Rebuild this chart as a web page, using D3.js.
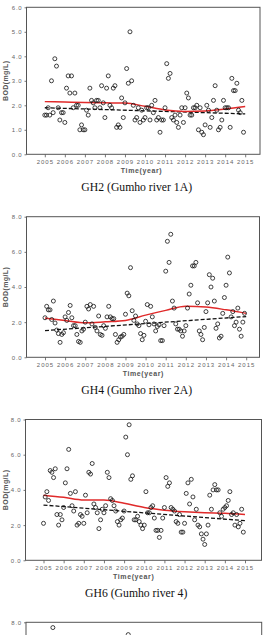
<!DOCTYPE html>
<html><head><meta charset="utf-8">
<script src="https://cdn.jsdelivr.net/npm/d3@7"></script>
<style>
html,body{margin:0;padding:0;background:#fff;overflow:hidden;}
svg{display:block;}
</style></head>
<body>
<script>
// ---- data (monthly BOD, Jan 2005 .. Dec 2014) ----
const xTickYears = [2005,2006,2007,2008,2009,2010,2011,2012,2013,2014,2015];
const startYear = 2005;

const gh2 = [1.6,1.6,1.9,1.6,3.0,1.7,3.9,3.6,1.9,1.4,1.7,1.7,
  1.3,2.7,3.2,2.5,3.2,1.9,2.5,2.0,2.0,1.0,1.2,1.0,
  1.0,1.8,1.6,2.7,2.2,2.1,1.9,2.2,2.2,1.9,2.8,2.1,
  1.5,2.7,3.2,2.0,1.9,2.7,2.8,1.1,1.2,1.1,2.3,1.5,
  2.1,3.5,2.9,5.0,3.0,2.0,1.4,1.5,1.9,1.3,1.8,1.4,
  1.5,1.9,1.9,1.4,2.0,1.7,2.2,1.4,1.5,0.9,1.4,1.4,
  1.9,3.7,3.1,3.3,1.5,1.4,1.6,1.3,1.1,1.6,1.9,1.3,
  1.9,2.5,2.3,1.6,1.6,1.9,1.9,2.0,1.0,1.9,0.9,0.8,
  1.2,2.0,1.8,1.1,1.5,2.2,2.8,1.8,1.0,1.1,1.4,2.2,
  1.9,1.9,1.9,1.1,3.1,2.6,2.6,2.9,1.8,1.7,2.2,0.9];
const gh4 = [2.25,2.9,2.7,2.7,2.15,3.2,1.95,1.55,1.35,0.85,1.3,1.4,
  2.3,2.1,2.55,2.95,2.25,1.8,1.8,1.3,0.9,0.85,1.5,1.6,
  2.0,2.9,2.75,3.0,1.9,2.9,1.7,1.5,2.35,1.3,1.25,1.8,
  1.65,2.3,2.9,2.3,2.2,2.2,1.3,0.85,1.0,1.15,1.2,1.3,
  2.45,3.65,3.5,5.1,2.65,2.1,2.35,1.9,1.8,1.35,1.0,1.25,
  2.05,3.0,1.85,2.9,2.3,1.9,1.5,1.75,1.85,0.95,0.95,1.8,
  4.9,6.6,5.4,7.0,3.2,2.8,1.9,1.6,1.6,1.5,1.2,1.5,
  1.8,2.8,3.6,4.1,5.2,5.2,5.4,3.1,1.5,1.3,1.0,1.7,
  2.6,3.1,4.7,4.0,4.5,3.2,1.65,1.9,1.1,1.2,2.5,3.4,
  4.1,5.7,4.8,2.3,2.6,1.8,2.0,2.8,1.6,1.2,2.0,2.5];
const gh6 = [2.1,3.6,3.9,3.4,5.1,5.0,4.7,5.2,2.6,2.0,2.6,2.3,
  3.0,4.4,5.2,6.3,3.8,3.1,2.8,3.9,2.0,2.1,2.6,2.5,
  2.1,3.7,2.7,5.0,4.9,5.5,3.2,3.0,2.7,1.8,2.3,2.9,
  2.7,3.1,5.0,4.7,3.5,3.4,3.1,2.8,2.2,2.0,2.3,2.4,
  2.8,7.0,6.0,7.7,4.6,4.8,2.3,2.3,2.5,2.2,2.0,1.8,
  2.0,3.9,2.7,2.7,3.0,3.1,2.4,1.7,1.7,1.3,1.7,2.4,
  3.0,4.7,4.2,4.4,3.0,2.9,2.8,2.2,2.1,2.6,1.6,1.6,
  2.1,3.8,4.4,3.2,4.6,3.6,2.3,2.9,2.0,1.9,1.5,1.2,
  0.9,1.5,2.0,3.7,2.9,4.0,4.3,4.0,4.0,2.7,2.5,2.9,
  3.0,3.1,3.4,3.9,2.6,2.7,2.0,2.6,1.9,2.1,2.9,1.6];
// visible top of the 4th panel (only two points fall inside the picture)
const gh8VisibleMonth = [5, 50];
const gh8VisibleValue = [7.7, 7.3];

// LOWESS curves (value at each year mark)
const lowessYears = [2005,2006,2007,2008,2009,2010,2011,2012,2013,2014,2015];
const gh2Lowess = [2.15,2.13,2.11,2.1,2.09,1.96,1.81,1.75,1.77,1.85,1.95];
const gh4Lowess = [2.23,2.1,1.96,2.02,2.1,2.4,2.67,2.9,2.86,2.7,2.5];
const gh6Lowess = [3.7,3.58,3.43,3.42,3.24,3.0,2.85,2.76,2.7,2.67,2.6];
// Sen's slope trend line (start, end values at 2005 and 2015)
const gh2Trend = [1.9,1.65];
const gh4Trend = [1.52,2.32];
const gh6Trend = [3.14,2.25];

const captions = ["GH2 (Gumho river 1A)","GH4 (Gumho river 2A)","GH6 (Gumho river 4)"];
const yMaxes = [6,8,8,8];
const yTickSteps = [1,2,2,2];

// ---- layout ----
const W = 267, H = 635;
const panels = [
  {top:7.3, bottom:154.3, left:26.5, right:260, x0:44.8, x1:245.2, timeX:141.5, capX:136.7,
   values:gh2, lowess:gh2Lowess, trend:gh2Trend, caption:captions[0], yMax:yMaxes[0], step:yTickSteps[0], full:true},
  {top:216.7, bottom:357.3, left:26.5, right:259.5, x0:45, x1:246.2, timeX:143.3, capX:136.7,
   values:gh4, lowess:gh4Lowess, trend:gh4Trend, caption:captions[1], yMax:yMaxes[1], step:yTickSteps[1], full:true},
  {top:419.5, bottom:560.3, left:25.5, right:261.5, x0:43.5, x1:245, timeX:133.7, capX:136.2,
   values:gh6, lowess:gh6Lowess, trend:gh6Trend, caption:captions[2], yMax:yMaxes[2], step:yTickSteps[2], full:true},
  {top:622.3, bottom:763, left:26, right:261.7, x0:44.5, x1:245.5, timeX:140, capX:136.7,
   values:null, lowess:null, trend:null, caption:null, yMax:yMaxes[3], step:yTickSteps[3], full:false}
];

const svg = d3.select("body").append("svg").attr("width",W).attr("height",H);
const fmt = d3.format(".1f");

panels.forEach(p => {
  const g = svg.append("g");
  const x = d3.scaleLinear().domain([2005,2015]).range([p.x0,p.x1]);
  const y = d3.scaleLinear().domain([0,p.yMax]).range([p.bottom,p.top]);
  // only ticks that fall inside the picture
  const yTicks = d3.range(0, p.yMax + 0.001, p.step).filter(v => y(v) < H - 4);

  if (p.full) {
    // x axis
    const xa = g.append("g").attr("transform",`translate(0,${p.bottom})`)
      .call(d3.axisBottom(x).tickValues(xTickYears).tickFormat(d3.format("d")).tickSize(3).tickPadding(2));
    xa.select(".domain").remove();
    xa.selectAll(".tick line").attr("stroke","#555").attr("stroke-width",0.8);
    xa.selectAll(".tick text").attr("font-family","Liberation Sans, Arial, sans-serif")
      .attr("font-size",6).attr("fill","#666").attr("letter-spacing",1).attr("dy","0.71em");
  }

  // y axis
  const ya = g.append("g").attr("transform",`translate(${p.left},0)`)
    .call(d3.axisLeft(y).tickValues(yTicks).tickFormat(fmt).tickSize(2).tickPadding(2));
  ya.select(".domain").remove();
  ya.selectAll(".tick line").attr("stroke","#555").attr("stroke-width",0.8);
  ya.selectAll(".tick text").attr("font-family","Liberation Sans, Arial, sans-serif")
    .attr("font-size",6).attr("fill","#666").attr("letter-spacing",0.8);

  // frame
  g.append("rect").attr("x",p.left).attr("y",p.top)
    .attr("width",p.right-p.left).attr("height",p.bottom-p.top)
    .attr("fill","none").attr("stroke","#555").attr("stroke-width",1);

  if (p.full) {
    // axis titles
    g.append("text").attr("x",p.timeX).attr("y",p.bottom+16).attr("dy","0.35em")
      .attr("text-anchor","middle").attr("font-family","Liberation Sans, Arial, sans-serif")
      .attr("font-size",7).attr("font-weight","bold").attr("fill","#555").attr("letter-spacing",0.6)
      .text("Time(year)");
    g.append("text").attr("transform",`translate(6,${(p.top+p.bottom)/2}) rotate(-90)`)
      .attr("dy","0.35em").attr("text-anchor","middle")
      .attr("font-family","Liberation Sans, Arial, sans-serif").attr("font-size",7)
      .attr("font-weight","bold").attr("fill","#555").attr("letter-spacing",0.4)
      .text("BOD(mg/L)");
    g.append("text").attr("x",p.capX).attr("y",p.bottom+32.5).attr("dy","0.35em")
      .attr("text-anchor","middle").attr("font-family","Liberation Serif, Times New Roman, serif")
      .attr("font-size",11.7).attr("fill","#111").text(p.caption);
  }

  const tOf = i => startYear + i/12;

  if (p.values) {
    // trend (dashed)
    g.append("path").datum([[2005,p.trend[0]],[2015,p.trend[1]]])
      .attr("d", d3.line().x(d=>x(d[0])).y(d=>y(d[1])))
      .attr("fill","none").attr("stroke","#111").attr("stroke-width",1.3).attr("stroke-dasharray","4,2");
    // lowess (red)
    g.append("path").datum(lowessYears.map((yr,i)=>[yr,p.lowess[i]]))
      .attr("d", d3.line().x(d=>x(d[0])).y(d=>y(d[1])).curve(d3.curveMonotoneX))
      .attr("fill","none").attr("stroke","#e02a2a").attr("stroke-width",1.5);
    // points
    g.selectAll("circle.pt").data(p.values).join("circle").attr("class","pt")
      .attr("cx",(d,i)=>x(tOf(i))).attr("cy",d=>y(d)).attr("r",2)
      .attr("fill","none").attr("stroke","#111").attr("stroke-width",0.8);
  } else {
    g.selectAll("circle.pt").data(gh8VisibleValue).join("circle").attr("class","pt")
      .attr("cx",(d,i)=>x(tOf(gh8VisibleMonth[i]))).attr("cy",d=>y(d)).attr("r",2)
      .attr("fill","none").attr("stroke","#111").attr("stroke-width",0.8);
  }
});
</script>
</body></html>
